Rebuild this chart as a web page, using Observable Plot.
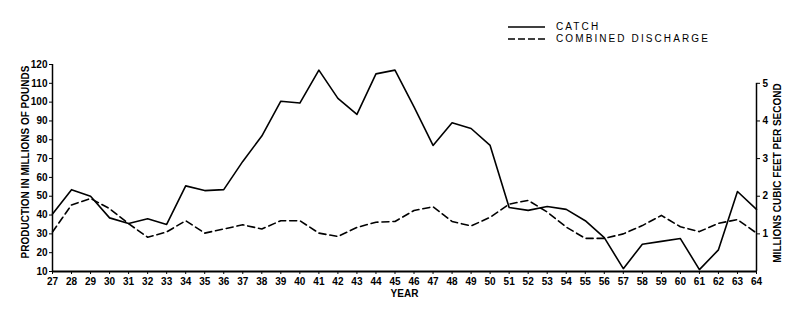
<!DOCTYPE html>
<html>
<head>
<meta charset="utf-8">
<script src="https://cdn.jsdelivr.net/npm/d3@7"></script>
<script src="https://cdn.jsdelivr.net/npm/@observablehq/plot@0.6"></script>
<style>
  html, body { margin: 0; padding: 0; background: #fff; }
  #wrap { position: relative; width: 800px; height: 321px; font-family: "Liberation Sans", Arial, sans-serif; }
  #legend { position: absolute; left: 508px; top: 21px; font-size: 10px; letter-spacing: 2.1px; color: #000; line-height: 12px; }
  #legend .row { display: flex; align-items: center; height: 12px; }
  #legend svg { margin-right: 11px; }
</style>
</head>
<body>
<div id="wrap"><div id="legend"></div></div>
<script>
// Years (19xx)
const years = [27,28,29,30,31,32,33,34,35,36,37,38,39,40,41,42,43,44,45,46,47,48,49,50,51,52,53,54,55,56,57,58,59,60,61,62,63,64];
// Catch, millions of pounds (left axis)
const catchLbs = [40.5,53.5,50,38.5,35.5,38,35,55.5,53,53.5,68.5,82,100.5,99.5,117,102,93.5,115,117,97.5,77,89,86,77,44,42.5,44.5,43,37,28,11.5,24.5,26,27.5,11,21.5,52.5,43];
// Combined discharge, millions cubic feet per second (right axis)
const discharge = [1.05,1.77,1.94,1.67,1.27,0.91,1.05,1.35,1.02,1.13,1.24,1.13,1.35,1.35,1.02,0.93,1.17,1.31,1.33,1.62,1.72,1.33,1.21,1.44,1.79,1.89,1.58,1.18,0.88,0.88,1.0,1.22,1.49,1.19,1.06,1.28,1.38,1.02];
// Tick labels
const leftTicks = [10,20,30,40,50,60,70,80,90,100,110,120];
const rightTicks = [1,2,3,4,5];

// right axis value -> left axis value (0 -> 10, 5 -> 110)
const toLeft = v => 10 + 20 * v;

const catchData = years.map((y, i) => ({year: y, value: catchLbs[i]}));
const dischargeData = years.map((y, i) => ({year: y, value: toLeft(discharge[i])}));

const font = "Liberation Sans, Arial, sans-serif";

const chart = Plot.plot({
  width: 800,
  height: 321,
  marginLeft: 52,
  marginRight: 44,
  marginTop: 64,
  marginBottom: 50,
  style: {fontFamily: font, fontSize: "10px", fontWeight: "bold", color: "#000", background: "#fff"},
  x: {domain: [27, 64]},
  y: {domain: [10, 120]},
  marks: [
    Plot.axisX({ticks: years, tickFormat: d => String(d), tickSize: 3, tickPadding: 3, label: null}),
    Plot.axisY({ticks: leftTicks, tickSize: 3, tickPadding: 2, label: null, anchor: "left"}),
    Plot.axisY({ticks: rightTicks.map(toLeft), tickFormat: v => String((v - 10) / 20), tickSize: 3, tickPadding: 3, label: null, anchor: "right"}),
    Plot.ruleX([27], {y1: 10, y2: 120, stroke: "#000", strokeWidth: 1.5}),
    Plot.ruleX([64], {y1: 10, y2: toLeft(5), stroke: "#000", strokeWidth: 1.5}),
    Plot.ruleY([10], {x1: 27, x2: 64, stroke: "#000", strokeWidth: 1.8}),
    Plot.line(catchData, {x: "year", y: "value", stroke: "#000", strokeWidth: 1.6}),
    Plot.line(dischargeData, {x: "year", y: "value", stroke: "#000", strokeWidth: 1.6, strokeDasharray: "7,4"}),
    Plot.text(["YEAR"], {frameAnchor: "bottom", dy: 25, fontSize: 10, fontWeight: "bold", letterSpacing: 1.5}),
    Plot.text(["PRODUCTION IN MILLIONS OF POUNDS"], {frameAnchor: "left", textAnchor: "middle", dx: -27, dy: -6, rotate: -90, fontSize: 10, fontWeight: "bold", letterSpacing: 0.9}),
    Plot.text(["MILLIONS CUBIC FEET PER SECOND"], {frameAnchor: "right", textAnchor: "middle", dx: 21, dy: 5, rotate: -90, fontSize: 10, fontWeight: "bold", letterSpacing: 0.8})
  ]
});
document.getElementById("wrap").appendChild(chart);

// Legend
const legendItems = [
  {label: "CATCH", dash: null},
  {label: "COMBINED DISCHARGE", dash: "7,3"}
];
const legend = document.getElementById("legend");
for (const item of legendItems) {
  const row = document.createElement("div");
  row.className = "row";
  row.innerHTML = `<svg width="37" height="6"><line x1="0" x2="37" y1="3" y2="3" stroke="#000" stroke-width="1.5" ${item.dash ? `stroke-dasharray="${item.dash}"` : ""}/></svg><span>${item.label}</span>`;
  legend.appendChild(row);
}
</script>
</body>
</html>
